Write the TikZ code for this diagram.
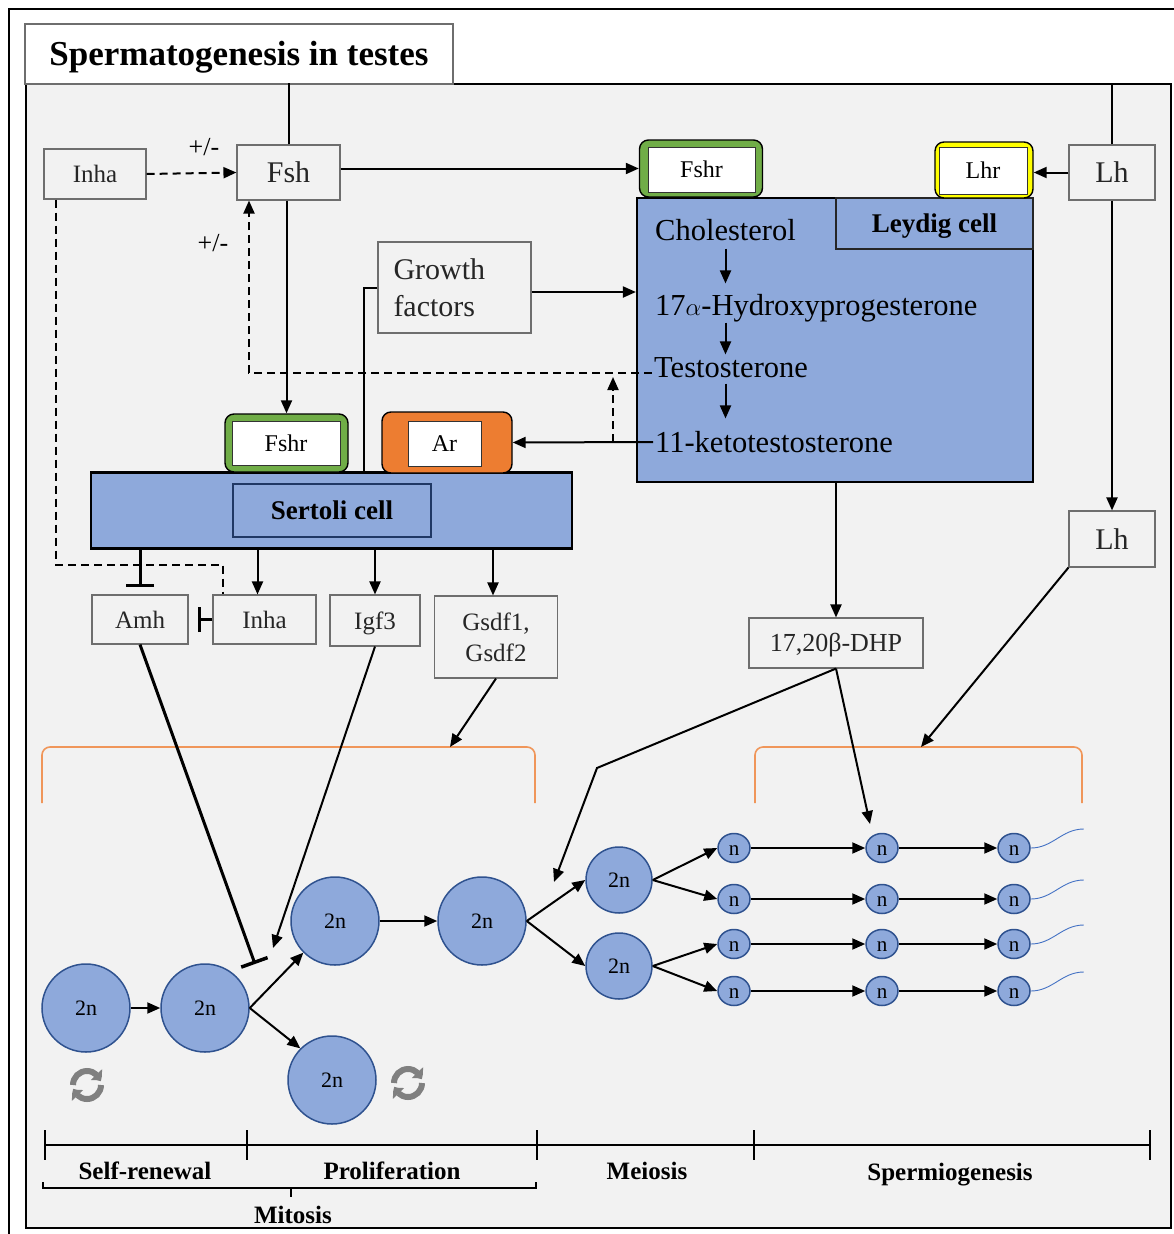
\documentclass[tikz,border=0pt]{standalone}
\usepackage{fontspec}
\setmainfont{Liberation Serif}
\usetikzlibrary{arrows.meta,bending,shapes.geometric,calc}
\definecolor{bg}{RGB}{242,242,242}
\definecolor{cellblue}{RGB}{142,169,219}
\definecolor{celledge}{RGB}{47,82,143}
\definecolor{boxedge}{RGB}{110,110,110}
\definecolor{recgreen}{RGB}{112,173,71}
\definecolor{recyellow}{RGB}{255,255,0}
\definecolor{recorange}{RGB}{237,125,49}
\definecolor{brk}{RGB}{240,150,90}
\definecolor{tailblue}{RGB}{68,114,196}
\definecolor{icongray}{RGB}{128,128,128}
\definecolor{labedge}{RGB}{32,56,100}
\newcommand\myfs[1]{\fontsize{#1}{#1}\selectfont}
\begin{document}
\begin{tikzpicture}[x=1pt,y=-1pt,
  fsz/.style={font=\myfs{#1}, /utils/exec={\pgfmathsetmacro\mytxh{0.68*#1}}, text height=\mytxh pt, text depth=0pt},
  box/.style={draw=boxedge, fill=bg, line width=1.1pt, inner sep=0pt, text=black!85},
  arr/.style={line width=2pt, -{Triangle[length=13pt,width=11pt]}},
  darr/.style={line width=2pt, dash pattern=on 8pt off 5pt, -{Triangle[length=13pt,width=11pt]}},
  dln/.style={line width=2pt, dash pattern=on 8pt off 5pt},
  inh/.style={line width=3pt, -{Bar[width=28pt,line width=3.5pt]}},
  ln/.style={line width=2pt},
  rec/.style={draw=black, line width=1.4pt, rounded corners=9pt, inner sep=0pt},
  recin/.style={draw=black!80, fill=white, line width=0.9pt, inner sep=0pt, fsz=24},
  cell/.style={circle, draw=celledge, fill=cellblue, line width=1.5pt, inner sep=0pt, minimum size=88pt, fsz=22},
  mcell/.style={cell, minimum size=66pt},
  ncell/.style={ellipse, draw=celledge, fill=cellblue, line width=1.5pt, inner sep=0pt, minimum width=32pt, minimum height=29pt, fsz=21},
  brkt/.style={draw=brk, line width=1.6pt, rounded corners=8pt},
  tl/.style={line width=2pt},
  tlab/.style={fsz=25, font=\myfs{25}\bfseries},
  tail/.style={draw=tailblue, line width=0.9pt},
  recyc/.style={draw=icongray, line width=6pt, -{Triangle[length=8pt,width=15pt,bend]}},
  steroid/.style={fsz=30.5, anchor=west, inner sep=2pt},
]
\useasboundingbox (0,0) rectangle (1174,1234);
\fill[white] (0,0) rectangle (1174,1234);
\draw[line width=1.8pt] (9,1234) -- (9,9) -- (1174,9);
% panel and title
\node[draw=black, fill=bg, line width=2pt, minimum width=1145pt, minimum height=1144pt, inner sep=0pt] (panel) at (598.5,656) {};
\node[draw=boxedge, fill=white, line width=1.1pt, minimum width=428pt, minimum height=60pt, inner sep=0pt, fsz=35, font=\myfs{35}\bfseries] (title) at (239,54) {Spermatogenesis in testes};

% Leydig cell
\node[draw=black, fill=cellblue, line width=2.2pt, minimum width=396pt, minimum height=284pt, inner sep=0pt] (leydig) at (835,340) {};
\node[draw=black!85, fill=cellblue, line width=1.1pt, minimum width=197pt, minimum height=51pt, inner sep=0pt, fsz=27, font=\myfs{27}\bfseries] (leylab) at (934.5,223.5) {Leydig cell};
\node[steroid] (chol) at (653,230) {Cholesterol};
\node[steroid] (hp) at (653,305) {17$\alpha$-Hydroxyprogesterone};
\node[steroid] (testo) at (652,367) {Testosterone};
\node[steroid] (keto) at (653,442) {11-ketotestosterone};
\draw[arr, shorten <=6pt, shorten >=9pt] (chol.south) -- (chol.south |- hp.north);
\draw[arr, shorten <=5pt] (chol.south |- hp.south) -- (chol.south |- testo.north);
\draw[arr, shorten <=4pt, shorten >=11pt] (chol.south |- testo.south) -- (chol.south |- keto.north);

% Sertoli cell
\node[draw=black, fill=cellblue, line width=2.2pt, minimum width=481pt, minimum height=76pt, inner sep=0pt] (sertoli) at (331.5,510.5) {};
\node[draw=labedge, fill=cellblue, line width=1.1pt, minimum width=198pt, minimum height=53pt, inner sep=0pt, fsz=27, font=\myfs{27}\bfseries] (serlab) at (332,510.5) {Sertoli cell};

% receptors
\node[rec, fill=recgreen, minimum width=123pt, minimum height=57pt] (fshrL) at (701,168.5) {};
\node[recin, minimum width=107pt, minimum height=45pt] (fshrLin) at (701.5,169.5) {Fshr};
\node[rec, fill=recyellow, minimum width=98pt, minimum height=56pt] (lhr) at (984,170) {};
\node[recin, minimum width=88pt, minimum height=47pt] (lhrin) at (983,170.5) {Lhr};
\node[rec, fill=recgreen, minimum width=123pt, minimum height=58pt] (fshrS) at (286.5,443) {};
\node[recin, minimum width=108pt, minimum height=44pt] (fshrSin) at (286,443) {Fshr};
\node[rec, fill=recorange, minimum width=130pt, minimum height=61pt] (ar) at (447,442.5) {};
\node[recin, minimum width=73pt, minimum height=45pt] (arin) at (444.5,443.5) {Ar};

% boxes
\node[box, fsz=25, minimum width=102pt, minimum height=50pt] (inhaT) at (95,174) {Inha};
\node[box, fsz=30, minimum width=103pt, minimum height=55pt] (fsh) at (288.5,172.5) {Fsh};
\node[box, fsz=30, minimum width=86pt, minimum height=55pt] (lhA) at (1112,172.5) {Lh};
\node[box, fsz=30, minimum width=86pt, minimum height=56pt] (lhB) at (1112,539) {Lh};
\node[box, font=\fontsize{30}{37}\selectfont, minimum width=153pt, minimum height=91pt, text width=122pt, align=left] (gf) at (454.5,287.5) {Growth\\factors};
\node[box, fsz=25, minimum width=96pt, minimum height=49pt] (amh) at (140,619.5) {Amh};
\node[box, fsz=25, minimum width=103pt, minimum height=49pt] (inhaB) at (264.5,619.5) {Inha};
\node[box, fsz=25, minimum width=90pt, minimum height=51pt] (igf) at (375,620.5) {Igf3};
\node[box, font=\fontsize{25}{31}\selectfont, minimum width=123pt, minimum height=82pt, align=center] (gsdf) at (496,637) {Gsdf1,\\Gsdf2};
\node[box, fsz=26, minimum width=174pt, minimum height=50pt] (dhp) at (836,643) {17,20β-DHP};

\node[fsz=26, inner sep=1pt] (pm1) at (204,147) {+/-};
\node[fsz=26, inner sep=1pt] (pm2) at (213,243) {+/-};

% top connectors
\draw[ln] (fsh.north) -- (fsh.north |- panel.north);
\draw[ln] (lhA.north) -- (lhA.north |- panel.north);
\draw[darr] (inhaT.east) -- (fsh.west);
\draw[arr] (fsh.east |- fshrL.west) -- (fshrL.west);
\draw[arr] (lhA.west) -- (lhA.west -| lhr.east);
\draw[arr] (lhA.south) -- (lhB.north);
\draw[arr] (fshrS.north |- fsh.south) -- (fshrS.north);
\draw[arr] (gf.east |- 0,292) -- (leydig.west |- 0,292);
\draw[ln] (gf.west) -| ([xshift=32pt]sertoli.north);
\draw[darr] ([yshift=-6pt]testo.west) -| ([xshift=-39.5pt]fsh.south);
\coordinate (kd) at (613,442);
\coordinate (kdt) at (613,377);
\draw[darr] (kd) -- (kdt);
\draw[arr] (keto.west) -- (ar.east);
\draw[arr] (leydig.south -| dhp.north) -- (dhp.north);

% Sertoli outputs
\draw[inh] (amh.north |- sertoli.south) -- ([yshift=7pt]amh.north);
\draw[arr] ([xshift=-7pt]inhaB.north |- sertoli.south) -- ([xshift=-7pt]inhaB.north);
\draw[arr] (igf.north |- sertoli.south) -- (igf.north);
\draw[arr] ([xshift=-3pt]gsdf.north |- sertoli.south) -- ([xshift=-3pt]gsdf.north);
\draw[line width=2.6pt, -{Bar[width=25pt,line width=3.5pt]}] (inhaB.west) -- ([xshift=9pt]amh.east);
\draw[dln] ([xshift=-39pt]inhaT.south) -- ++(0,365) -| ([xshift=-41.5pt]inhaB.north);

% brackets
\draw[brkt] (42,803) -- (42,747) -- (535,747) -- (535,803);
\draw[brkt] (755,803) -- (755,747) -- (1082,747) -- (1082,803);
\coordinate (bkL) at (450,747);
\coordinate (bkR) at (921,747);

% cells
\node[cell] (c1) at (86,1008) {2n};
\node[cell] (c2) at (205,1008) {2n};
\node[cell] (c3) at (335,921) {2n};
\node[cell] (c4) at (482,921) {2n};
\node[cell] (c5) at (332,1080) {2n};
\node[mcell] (m1) at (619,880) {2n};
\node[mcell] (m2) at (619,966) {2n};
\foreach \r/\yy in {1/848,2/899,3/944,4/991}{
  \node[ncell] (n\r1) at (734,\yy) {n};
  \node[ncell] (n\r2) at (882,\yy) {n};
  \node[ncell] (n\r3) at (1014,\yy) {n};
  \draw[arr] (n\r1) -- (n\r2);
  \draw[arr] (n\r2) -- (n\r3);
  \draw[tail] (n\r3.east) to[out=0,in=180] ($(n\r3.east)+(53,-19)$);
}
\draw[arr] (c1) -- (c2);
\draw[arr] (c2.east) -- (c3.south west);
\draw[arr] (c2.east) -- (c5.north west);
\draw[arr] (c3) -- (c4);
\draw[arr] (c4.east) -- (m1.west);
\draw[arr] (c4.east) -- (m2.west);
\draw[arr] (m1.east) -- (n11.west);
\draw[arr] (m1.east) -- (n21.west);
\draw[arr] (m2.east) -- (n31.west);
\draw[arr] (m2.east) -- (n41.west);

% long connectors
\coordinate (amhEnd) at (255,964);
\coordinate (igfEnd) at (273,948);
\coordinate (dhpBend) at (597,768);
\coordinate (dhpTip) at (554,882);
\coordinate (dhpTip2) at (870,824);
\draw[inh] (amh.south) -- (amhEnd);
\draw[arr] (igf.south) -- (igfEnd);
\draw[arr] (gsdf.south) -- (bkL);
\draw[arr] (lhB.south west) -- (bkR);
\draw[arr] (dhp.south) -- (dhpBend) -- (dhpTip);
\draw[arr] (dhp.south) -- (dhpTip2);

% recycle icons
\coordinate (rc1) at (87,1085);
\coordinate (rc2) at (408,1083);
\foreach \c in {rc1,rc2}{
  \draw[recyc] ($(\c)+(180:14)$) arc[start angle=180, end angle=345, radius=14];
  \draw[recyc] ($(\c)+(0:14)$) arc[start angle=0, end angle=165, radius=14];
}

% timeline
\draw[tl] (45,1145) -- (1150,1145);
\foreach \x in {45,247,537,754,1150}{ \draw[tl] (\x,1130) -- (\x,1160); }
\draw[tl] (43,1182) -- (43,1188) -- (536,1188) -- (536,1182);
\draw[tl] (291,1188) -- (291,1197);
\node[tlab] (lsr) at (145,1171) {Self-renewal};
\node[tlab] (lpr) at (392,1171) {Proliferation};
\node[tlab] (lme) at (647,1171) {Meiosis};
\node[tlab] (lsp) at (950,1172) {Spermiogenesis};
\node[tlab] (lmi) at (293,1215) {Mitosis};
\end{tikzpicture}
\end{document}
